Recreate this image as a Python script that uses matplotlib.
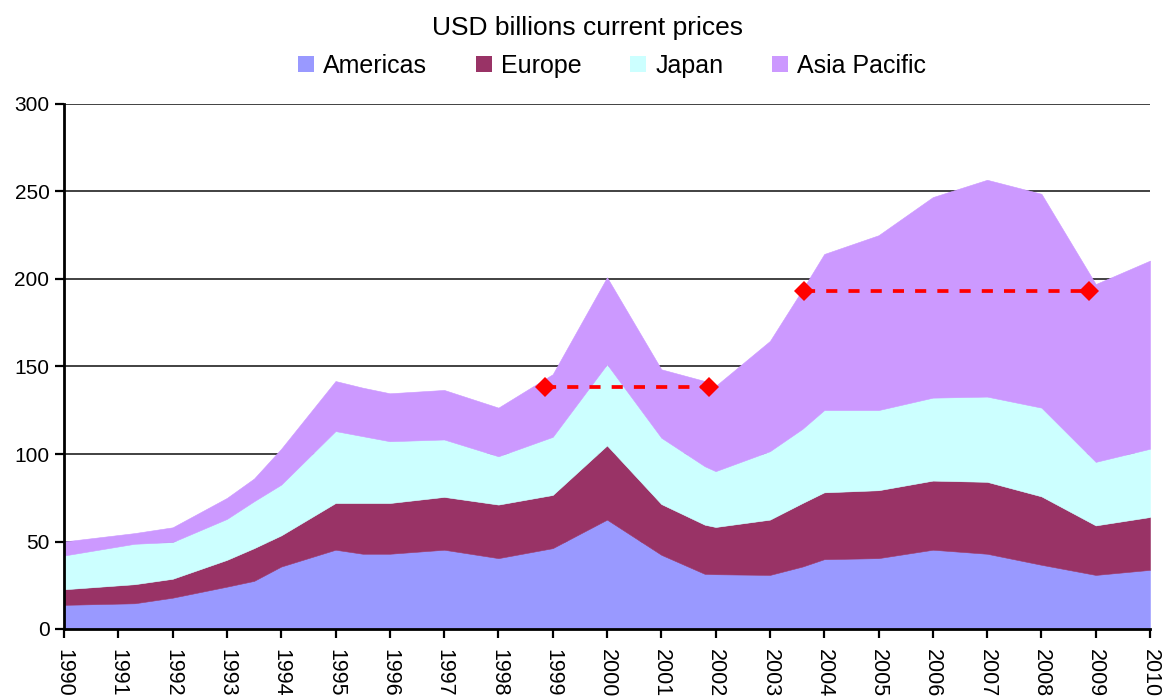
import matplotlib
matplotlib.use("Agg")
import matplotlib.pyplot as plt
from matplotlib.patches import Patch

plt.rcParams['font.family'] = ['Liberation Sans', 'DejaVu Sans']
plt.rcParams['lines.scale_dashes'] = False

# ---- data ----
x_pos = [1990, 1991.3, 1992, 1993, 1993.5, 1994, 1995, 1995.5, 1996, 1997, 1998,
         1999, 2000, 2001, 2001.8, 2002, 2003, 2003.6, 2004, 2005, 2006, 2007,
         2008, 2009, 2010]
americas = [13.8, 14.7, 17.9, 24.2, 27.5, 35.7, 45.3, 43.0, 43.0, 45.3, 40.5,
            46.2, 62.5, 42.4, 31.5, 31.3, 30.9, 35.7, 39.9, 40.5, 45.3, 43.0,
            36.7, 30.9, 33.8]
europe = [8.9, 10.9, 10.8, 15.3, 18.7, 17.8, 26.7, 29.0, 29.0, 30.2, 30.6,
          30.4, 42.4, 29.0, 28.1, 27.0, 31.6, 36.3, 38.2, 38.8, 39.5, 41.1,
          39.1, 28.3, 30.2]
japan = [19.3, 23.1, 21.0, 23.4, 26.8, 29.0, 41.1, 38.2, 35.3, 32.8, 27.6,
         33.2, 46.4, 37.9, 33.4, 31.9, 39.1, 42.4, 47.0, 45.8, 47.4, 48.7,
         50.7, 36.3, 39.0]
asia_pacific = [8.0, 6.1, 8.4, 12.0, 13.0, 20.5, 28.6, 27.7, 27.4, 28.3, 27.8,
                35.8, 49.7, 39.1, 48.7, 48.7, 63.0, 79.6, 89.2, 99.9, 114.6, 123.9,
                122.2, 101.6, 107.5]
series_names = ['Americas', 'Europe', 'Japan', 'Asia Pacific']
years = list(range(1990, 2011))
year_labels = [str(y) for y in years]
y_ticks = [0, 50, 100, 150, 200, 250, 300]

# reference markers (dashed red levels)
level1_x = [1998.85, 2001.88]
level1_y = [138.3, 138.3]
level2_x = [2003.62, 2008.87]
level2_y = [193.0, 193.0]

colors = ['#9999FF', '#993366', '#CCFFFF', '#CC99FF']

W, H = 1162, 697
fig = plt.figure(figsize=(W / 100, H / 100), dpi=100)
left, right, top, bottom = 64, 1150, 104, 629
ax = fig.add_axes([left / W, 1 - bottom / H, (right - left) / W, (bottom - top) / H])

ax.stackplot(x_pos, americas, europe, japan, asia_pacific, colors=colors,
             edgecolor='face', linewidth=0.4, zorder=2)

for lx, ly in ((level1_x, level1_y), (level2_x, level2_y)):
    ax.plot(lx, ly, color='#FF0000', lw=2.7, dashes=(8, 8), zorder=4)
    ax.plot(lx, ly, linestyle='none', marker='D', ms=9.7, mew=0,
            color='#FF0000', zorder=5)

ax.set_xlim(1990, 2010)
ax.set_ylim(0, 300)
ax.set_yticks(y_ticks)
ax.set_yticklabels([str(v) for v in y_ticks])
ax.set_xticks(years)
ax.set_xticklabels(year_labels, rotation=270)

ax.set_axisbelow(True)
ax.yaxis.grid(True, color='#333333', lw=1.3, zorder=0)
ax.xaxis.grid(False)

for s in ('top', 'right'):
    ax.spines[s].set_visible(False)
for s in ('left', 'bottom'):
    ax.spines[s].set_linewidth(2.0)
    ax.spines[s].set_color('black')
    ax.spines[s].set_zorder(6)

ax.tick_params(axis='y', direction='out', length=6.5, width=1.6, pad=4,
               labelsize=15)
ax.tick_params(axis='x', direction='out', length=6.5, width=1.6, pad=8,
               labelsize=15.5)
ax.patch.set_alpha(0)

fig.text(588 / W, 1 - 35 / H, 'USD billions current prices', ha='center',
         va='baseline', fontsize=19)

handles = [Patch(facecolor=c, edgecolor='none') for c in colors]
fig.legend(handles, series_names, loc='center', ncol=4,
           bbox_to_anchor=(612 / W, 1 - 66 / H), frameon=False, fontsize=18,
           handlelength=0.64, handleheight=0.64, handletextpad=0.36,
           columnspacing=1.95, borderaxespad=0, borderpad=0)

fig.savefig('out.png', dpi=100)
